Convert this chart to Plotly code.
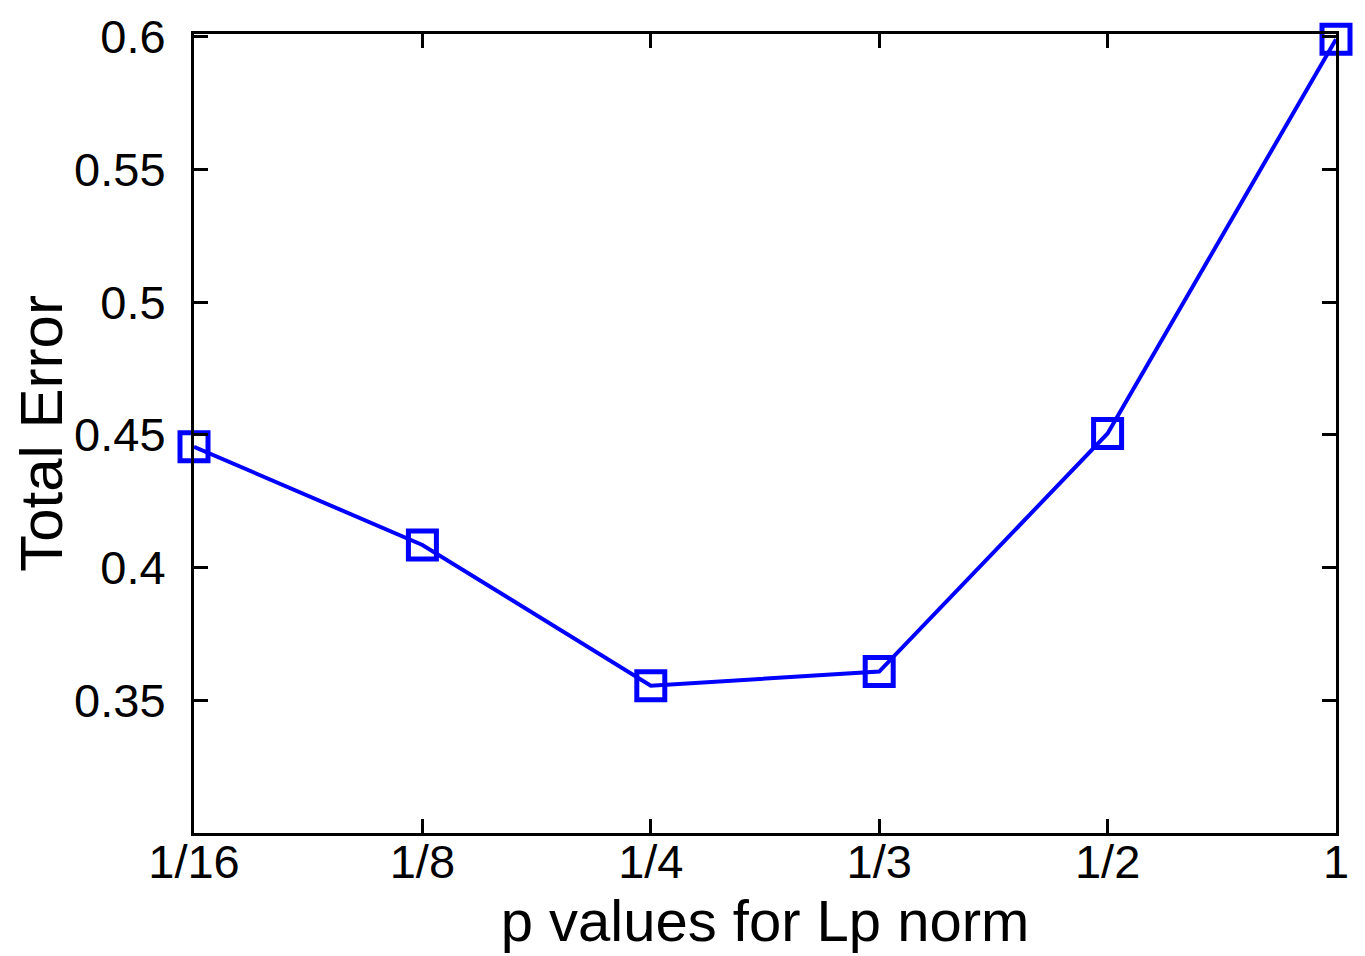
import plotly.graph_objects as go

categories = ["1/16", "1/8", "1/4", "1/3", "1/2", "1"]
total_error = [0.4455, 0.4085, 0.3555, 0.3608, 0.4505, 0.599]
y_ticks = [0.35, 0.4, 0.45, 0.5, 0.55, 0.6]
y_tick_labels = ["0.35", "0.4", "0.45", "0.5", "0.55", "0.6"]

x_idx = list(range(len(categories)))

fig = go.Figure()
fig.add_trace(go.Scatter(
    x=x_idx, y=total_error, mode="lines+markers",
    line=dict(color="#0000ff", width=4),
    marker=dict(symbol="square-open", size=28, color="#0000ff", line=dict(width=5, color="#0000ff")),
    cliponaxis=False, showlegend=False,
))

font_family = "Liberation Sans, Arial, Helvetica, sans-serif"
fig.update_layout(
    width=1365, height=956,
    margin=dict(l=186, r=37, t=26, b=131),
    paper_bgcolor="white", plot_bgcolor="white",
    font=dict(family=font_family, color="black", size=47),
    xaxis=dict(
        range=[0, len(categories) - 1], tickvals=x_idx, ticktext=categories,
        ticks="inside", ticklen=14, tickwidth=3, tickcolor="black",
        showline=True, linecolor="black", linewidth=3, mirror="ticks",
        showgrid=False, zeroline=False, automargin=False,
        tickfont=dict(size=47), ticklabelstandoff=-14,
        title=dict(text="p values for Lp norm", font=dict(size=58), standoff=0),
    ),
    yaxis=dict(
        range=[0.3, 0.601], tickvals=y_ticks, ticktext=y_tick_labels,
        ticks="inside", ticklen=14, tickwidth=3, tickcolor="black",
        showline=True, linecolor="black", linewidth=3, mirror="ticks",
        showgrid=False, zeroline=False, automargin=False,
        tickfont=dict(size=47), ticklabelstandoff=16,
        title=dict(text="Total Error", font=dict(size=60), standoff=2),
    ),
)

fig.write_html("out.html")
